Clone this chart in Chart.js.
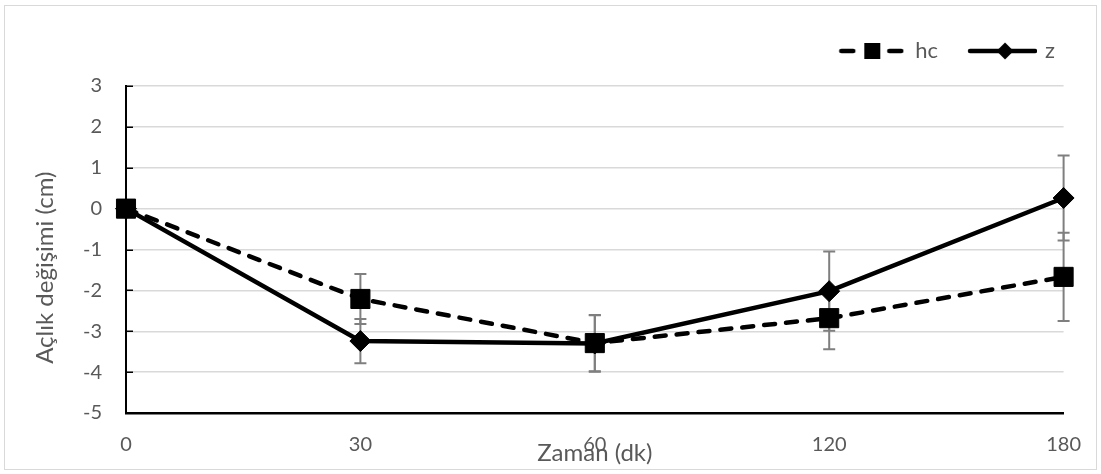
<!DOCTYPE html>
<html>
<head>
<meta charset="utf-8">
<script src="https://cdn.jsdelivr.net/npm/chart.js@4.4.1/dist/chart.umd.min.js"></script>
<style>
html,body{margin:0;padding:0;background:#fff;}
#wrap{width:1101px;height:474px;}
</style>
</head>
<body>
<div id="wrap"><canvas id="c" width="1101" height="474"></canvas></div>
<script>
// ---- data ----
const categories = ['0', '30', '60', '120', '180'];
const hcValues = [0, -2.21, -3.29, -2.68, -1.67];
const zValues = [0, -3.24, -3.30, -2.02, 0.26];
const hcErrors = [0, 0.61, 0.69, 0.76, 1.08];
const zErrors = [0, 0.54, 0.69, 0.97, 1.04];
const yTickValues = [3, 2, 1, 0, -1, -2, -3, -4, -5];
const seriesNames = ['hc', 'z'];
const xTitle = 'Zaman (dk)';
const yTitle = 'Açlık değişimi (cm)';

const FONT = "Lato, 'Open Sans', sans-serif";
const TEXT = '#595959';

// legend symbol images
function makeHcImg() {
  const c = document.createElement('canvas');
  c.width = 66; c.height = 22;
  const g = c.getContext('2d');
  g.strokeStyle = '#000'; g.lineWidth = 4.5; g.lineCap = 'round';
  g.beginPath(); g.moveTo(3, 11); g.lineTo(15, 11); g.stroke();
  g.beginPath(); g.moveTo(51, 11); g.lineTo(63, 11); g.stroke();
  g.fillStyle = '#000'; g.fillRect(26, 3, 16, 16);
  return c;
}
function makeZImg() {
  const c = document.createElement('canvas');
  c.width = 72; c.height = 22;
  const g = c.getContext('2d');
  g.strokeStyle = '#000'; g.lineWidth = 4.5; g.lineCap = 'round';
  g.beginPath(); g.moveTo(5, 11); g.lineTo(70, 11); g.stroke();
  g.fillStyle = '#000';
  g.beginPath(); g.moveTo(40, 2.5); g.lineTo(48.5, 11); g.lineTo(40, 19.5); g.lineTo(31.5, 11); g.closePath(); g.fill();
  return c;
}
const legendImgs = [makeHcImg(), makeZImg()];

const frame = {
  id: 'frame',
  beforeDraw(chart) {
    const ctx = chart.ctx;
    ctx.save();
    ctx.fillStyle = '#fff';
    ctx.fillRect(0, 0, chart.width, chart.height);
    ctx.strokeStyle = '#d9d9d9';
    ctx.lineWidth = 1;
    ctx.strokeRect(4.5, 5.5, chart.width - 9, chart.height - 10);
    ctx.restore();
  }
};

const errorBars = {
  id: 'errorBars',
  beforeDatasetsDraw(chart) {
    const ctx = chart.ctx;
    const ys = chart.scales.y;
    chart.data.datasets.forEach((ds, di) => {
      if (!ds.errors) return;
      const meta = chart.getDatasetMeta(di);
      ctx.save();
      ctx.strokeStyle = '#7f7f7f';
      ctx.lineWidth = 2;
      meta.data.forEach((pt, i) => {
        const e = ds.errors[i];
        if (!e) return;
        const v = ds.data[i];
        const t = ys.getPixelForValue(v + e);
        const b = ys.getPixelForValue(v - e);
        const x = pt.x, cap = 6;
        ctx.beginPath();
        ctx.moveTo(x, t); ctx.lineTo(x, b);
        ctx.moveTo(x - cap, t); ctx.lineTo(x + cap, t);
        ctx.moveTo(x - cap, b); ctx.lineTo(x + cap, b);
        ctx.stroke();
      });
      ctx.restore();
    });
  }
};

const innerTicks = {
  id: 'innerTicks',
  afterDatasetsDraw(chart) {
    const ctx = chart.ctx;
    const ys = chart.scales.y;
    const left = chart.chartArea.left;
    ctx.save();
    ctx.strokeStyle = '#000';
    ctx.lineWidth = 1.5;
    ys.ticks.forEach(t => {
      const p = Math.round(ys.getPixelForValue(t.value)) + 0.25;
      ctx.beginPath(); ctx.moveTo(left, p); ctx.lineTo(left + 7, p); ctx.stroke();
    });
    ctx.restore();
  }
};

const legendSpacer = {
  id: 'legendSpacer',
  beforeInit(chart) {
    const l = chart.legend;
    if (!l || l._patched) return;
    const f = l.fit;
    l.fit = function () { f.call(this); this.height += 14; };
    l._patched = true;
  }
};

new Chart(document.getElementById('c'), {
  type: 'line',
  data: {
    labels: categories,
    datasets: [
      {
        label: seriesNames[0],
        data: hcValues,
        errors: hcErrors,
        borderColor: '#000',
        backgroundColor: '#000',
        borderWidth: 4.5,
        borderDash: [11, 11],
        borderCapStyle: 'round',
        pointStyle: 'rect',
        pointRadius: 13.5,
        pointBorderWidth: 1,
        pointBackgroundColor: '#000',
        pointBorderColor: '#000',
        tension: 0
      },
      {
        label: seriesNames[1],
        data: zValues,
        errors: zErrors,
        borderColor: '#000',
        backgroundColor: '#000',
        borderWidth: 4.5,
        pointStyle: 'rectRot',
        pointRadius: 10.5,
        pointBorderWidth: 1,
        pointBackgroundColor: '#000',
        pointBorderColor: '#000',
        tension: 0
      }
    ]
  },
  options: {
    responsive: false,
    animation: false,
    devicePixelRatio: 1,
    events: [],
    layout: { padding: { left: 10, right: 16, top: 10, bottom: 6 } },
    plugins: {
      tooltip: { enabled: false },
      legend: {
        display: true,
        position: 'top',
        align: 'end',
        labels: {
          usePointStyle: true,
          pointStyleWidth: 66,
          padding: 30,
          color: TEXT,
          font: { family: FONT, size: 22 },
          generateLabels: (chart) => seriesNames.map((n, i) => ({
            text: n,
            pointStyle: legendImgs[i],
            fillStyle: '#000',
            strokeStyle: '#000',
            lineWidth: 0,
            hidden: false,
            datasetIndex: i,
            fontColor: TEXT,
            rotation: 0
          }))
        }
      }
    },
    scales: {
      x: {
        type: 'category',
        offset: false,
        grid: { display: true, drawOnChartArea: false, drawTicks: false },
        border: { display: true, color: '#000', width: 2.5 },
        ticks: { color: TEXT, font: { family: FONT, size: 20 }, padding: 20, maxRotation: 0, autoSkip: false },
        title: { display: true, text: xTitle, color: TEXT, font: { family: FONT, size: 24 }, padding: { top: 0, bottom: 0 } },
        afterFit(s) { s.height = 55; }
      },
      y: {
        type: 'linear',
        min: -5,
        max: 3,
        afterBuildTicks(s) { s.ticks = yTickValues.map(v => ({ value: v })); },
        grid: { color: '#d9d9d9', lineWidth: 1.5, drawTicks: false },
        border: { display: true, color: '#000', width: 2 },
        ticks: { color: TEXT, font: { family: FONT, size: 20 }, padding: 24 },
        title: { display: true, text: yTitle + '\u2003   ', color: TEXT, font: { family: FONT, size: 24 }, padding: { top: 21, bottom: 0 } },
        afterFit(s) { s.width = 116; }
      },
      yR: {
        type: 'linear',
        position: 'right',
        display: true,
        grid: { display: false },
        border: { display: false },
        ticks: { display: false },
        afterFit(s) { s.width = 12; }
      }
    }
  },
  plugins: [frame, legendSpacer, errorBars, innerTicks]
});
</script>
</body>
</html>
